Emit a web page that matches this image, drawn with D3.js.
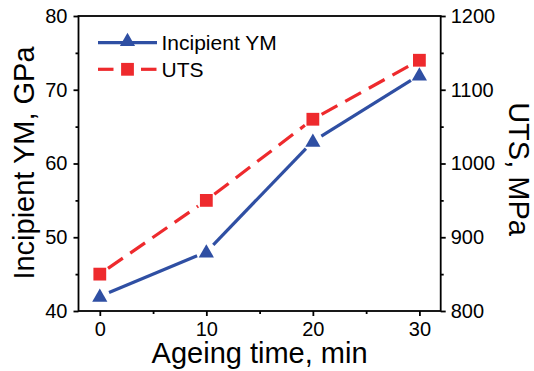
<!DOCTYPE html>
<html><head><meta charset="utf-8">
<script src="https://cdn.jsdelivr.net/npm/d3@7"></script>
<style>
html,body{margin:0;padding:0;background:#fff;}
svg{display:block;font-family:"Liberation Sans",Arial,sans-serif;}
</style></head>
<body><svg id="c" width="534" height="371"></svg>
<script>
const time = [0, 10, 20, 30];
const ymValues = [42, 48, 63, 72];
const utsValues = [850, 950, 1060, 1140];
const xTicks = [0, 10, 20, 30];
const xMinor = [5, 15, 25];
const yLeftTicks = [40, 50, 60, 70, 80];
const yLeftMinor = [45, 55, 65, 75];
const yRightTicks = [800, 900, 1000, 1100, 1200];
const yRightMinor = [850, 950, 1050, 1150];
const seriesNames = ["Incipient YM", "UTS"];
const BLUE = "#2f4fa3", RED = "#ee2a2d";

const svg = d3.select("#c");
const L = 78.5, R = 440.7, T = 16, B = 311;
const x = d3.scaleLinear().domain([-2, 32]).range([L, R]);
const yL = d3.scaleLinear().domain([40, 80]).range([B, T]);
const yR = d3.scaleLinear().domain([800, 1200]).range([B, T]);
const fmt = d3.format("d");

function styleAxis(g){
  g.select(".domain").remove();
  g.selectAll(".tick line").attr("stroke","#000").attr("stroke-width",1.8);
  g.selectAll(".tick text").attr("font-size",20).attr("fill","#000")
    .attr("font-family",'"Liberation Sans",Arial,sans-serif');
}
// major axes
svg.append("g").attr("transform",`translate(${L},0)`)
  .call(d3.axisLeft(yL).tickValues(yLeftTicks).tickFormat(fmt).tickSize(5).tickPadding(6).tickSizeOuter(0)).call(styleAxis);
svg.append("g").attr("transform",`translate(${R},0)`)
  .call(d3.axisRight(yR).tickValues(yRightTicks).tickFormat(fmt).tickSize(5).tickPadding(5).tickSizeOuter(0)).call(styleAxis);
svg.append("g").attr("transform",`translate(0,${B})`)
  .call(d3.axisBottom(x).tickValues(xTicks).tickFormat(fmt).tickSize(5).tickPadding(6).tickSizeOuter(0)).call(styleAxis);
// minor
svg.append("g").attr("transform",`translate(${L},0)`)
  .call(d3.axisLeft(yL).tickValues(yLeftMinor).tickSize(3).tickFormat("").tickSizeOuter(0)).call(styleAxis);
svg.append("g").attr("transform",`translate(${R},0)`)
  .call(d3.axisRight(yR).tickValues(yRightMinor).tickSize(3).tickFormat("").tickSizeOuter(0)).call(styleAxis);
svg.append("g").attr("transform",`translate(0,${B})`)
  .call(d3.axisBottom(x).tickValues(xMinor).tickSize(3).tickFormat("").tickSizeOuter(0)).call(styleAxis);

// frame
svg.append("rect").attr("x",L).attr("y",T).attr("width",R-L).attr("height",B-T)
  .attr("fill","none").attr("stroke","#000").attr("stroke-width",1.8);

// lines with gaps near markers
function gapSegments(pts, gap){
  const segs = [];
  for(let i=0;i<pts.length-1;i++){
    const [x1,y1]=pts[i],[x2,y2]=pts[i+1];
    const dx=x2-x1, dy=y2-y1, d=Math.hypot(dx,dy), ux=dx/d, uy=dy/d;
    segs.push([[x1+ux*gap,y1+uy*gap],[x2-ux*gap,y2-uy*gap]]);
  }
  return segs;
}
const ymPts = time.map((t,i)=>[x(t), yL(ymValues[i])]);
const utsPts = time.map((t,i)=>[x(t), yR(utsValues[i])]);
const line = d3.line();

svg.append("g").selectAll("path").data(gapSegments(utsPts,10)).join("path")
  .attr("d",line).attr("fill","none").attr("stroke",RED).attr("stroke-width",3.2)
  .attr("stroke-dasharray","18,9");
svg.append("g").selectAll("path").data(gapSegments(ymPts,10)).join("path")
  .attr("d",line).attr("fill","none").attr("stroke",BLUE).attr("stroke-width",3.2);

const sq = d3.symbol().type(d3.symbolSquare).size(12.8*12.8);
const tri = d3.symbol().type(d3.symbolTriangle).size(100);
svg.append("g").selectAll("path").data(utsPts).join("path")
  .attr("transform",d=>`translate(${d[0]},${d[1]})`).attr("d",sq).attr("fill",RED);
svg.append("g").selectAll("path").data(ymPts).join("path")
  .attr("transform",d=>`translate(${d[0]},${d[1]+1})`).attr("d",tri).attr("fill",BLUE);

// legend
const lg = svg.append("g");
lg.append("line").attr("x1",98).attr("x2",157).attr("y1",42.7).attr("y2",42.7)
  .attr("stroke",BLUE).attr("stroke-width",3.2);
lg.append("path").attr("transform","translate(127.5,41.5)").attr("d",tri).attr("fill",BLUE);
lg.append("text").attr("x",161.5).attr("y",49.5).attr("font-size",21).text(seriesNames[0]);
lg.append("line").attr("x1",98).attr("x2",113.5).attr("y1",69.3).attr("y2",69.3)
  .attr("stroke",RED).attr("stroke-width",3.2);
lg.append("line").attr("x1",141).attr("x2",156.5).attr("y1",69.3).attr("y2",69.3)
  .attr("stroke",RED).attr("stroke-width",3.2);
lg.append("path").attr("transform","translate(127.5,69.3)").attr("d",sq).attr("fill",RED);
lg.append("text").attr("x",161.5).attr("y",76.5).attr("font-size",21).text(seriesNames[1]);

// axis titles
svg.append("text").attr("x",(L+R)/2).attr("y",363).attr("text-anchor","middle")
  .attr("font-size",29).text("Ageing time, min");
svg.append("text").attr("transform","translate(34,163) rotate(-90)").attr("text-anchor","middle")
  .attr("font-size",29).text("Incipient YM, GPa");
svg.append("text").attr("transform","translate(509,169) rotate(90)").attr("text-anchor","middle")
  .attr("font-size",29).text("UTS, MPa");
</script></body></html>
